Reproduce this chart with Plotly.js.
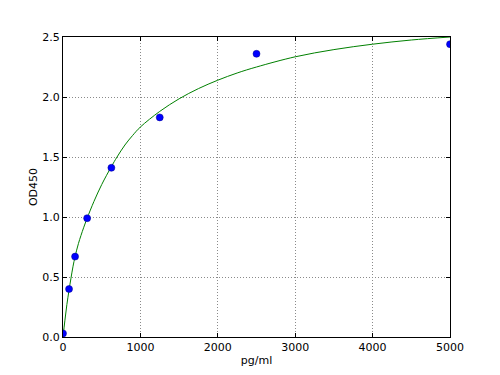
<!DOCTYPE html>
<html><head><meta charset="utf-8">
<script src="https://cdn.plot.ly/plotly-3.0.1.min.js"></script>
<style>html,body{margin:0;padding:0;background:#fff}#c{width:500px;height:375px}</style>
</head><body><div id="c"></div>
<script>
const concX = [0, 78, 156, 312, 625, 1250, 2500, 5000];
const odY = [0.03, 0.40, 0.67, 0.99, 1.41, 1.83, 2.36, 2.44];
const fitX = [0, 25, 50, 78, 103, 130, 156, 200, 266, 312, 400, 500, 625, 698, 800, 900, 1000, 1250, 1500, 1750, 2000, 2250, 2500, 3000, 3500, 4000, 4500, 5000];
const fitY = [0.0, 0.14, 0.27, 0.39, 0.49, 0.59, 0.67, 0.78, 0.91, 0.99, 1.13, 1.27, 1.42, 1.50, 1.60, 1.68, 1.75, 1.88, 1.985, 2.07, 2.14, 2.20, 2.25, 2.335, 2.395, 2.44, 2.475, 2.50];
const xTicks = [0, 1000, 2000, 3000, 4000, 5000];
const yTicks = [0.0, 0.5, 1.0, 1.5, 2.0, 2.5];
const yTickText = ['0.0', '0.5', '1.0', '1.5', '2.0', '2.5'];
const font = {family: 'DejaVu Sans', size: 11, color: '#000'};
const data = [
  {x: fitX, y: fitY, mode: 'lines', line: {color: '#008000', width: 1, shape: 'spline', smoothing: 1}, hoverinfo: 'none'},
  {x: concX, y: odY, mode: 'markers', marker: {color: '#0000ff', size: 7, line: {color: '#00008b', width: 0.5}}}
];
const axisBase = {showline: true, linecolor: '#000', linewidth: 1, mirror: 'allticks', ticks: 'inside', ticklen: 4, tickcolor: '#000', showgrid: true, gridcolor: '#8a8a8a', griddash: '1px,2px', gridwidth: 1, zeroline: false, tickfont: font};
const layout = {
  width: 500, height: 375, showlegend: false,
  paper_bgcolor: '#fff', plot_bgcolor: '#fff',
  margin: {l: 63, r: 50, t: 37, b: 38},
  font: font,
  xaxis: Object.assign({}, axisBase, {range: [0, 5000], tickvals: xTicks, ticktext: xTicks.map(String), title: {text: 'pg/ml', font: font, standoff: 3}}),
  yaxis: Object.assign({}, axisBase, {range: [0, 2.5], tickvals: yTicks, ticktext: yTickText, title: {text: 'OD450', font: font, standoff: 2}})
};
Plotly.newPlot('c', data, layout, {staticPlot: true});
</script></body></html>
